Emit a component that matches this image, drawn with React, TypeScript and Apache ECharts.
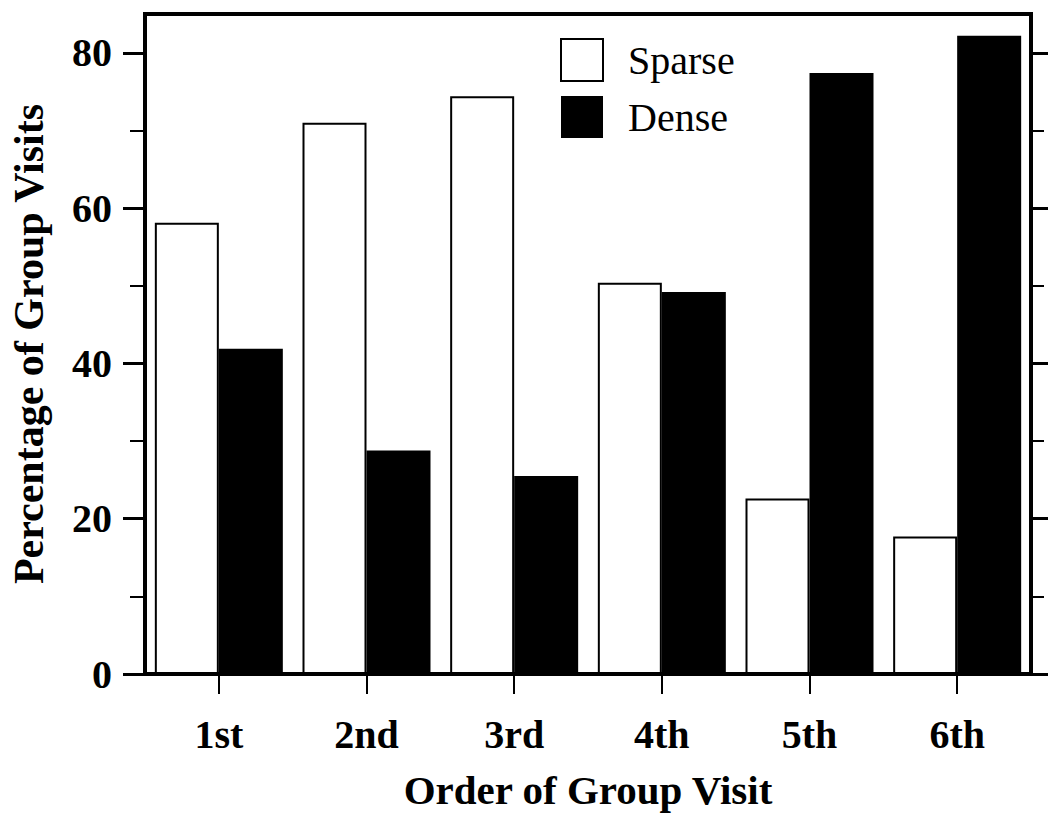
import React, { useEffect, useRef } from "react";
import * as echarts from "echarts";

const categories = ["1st", "2nd", "3rd", "4th", "5th", "6th"];
const sparse = [58.1, 71.0, 74.4, 50.4, 22.6, 17.7];
const dense = [41.9, 28.8, 25.5, 49.2, 77.4, 82.2];
const majorTicks = [0, 20, 40, 60, 80];
const minorTicks = [10, 30, 50, 70];

const FONT = "'Liberation Serif', 'Times New Roman', serif";

export default function App() {
  const ref = useRef<HTMLDivElement>(null);
  useEffect(() => {
    if (!ref.current) return;
    const chart = echarts.init(ref.current, null, { renderer: "svg" });
    const baseY = {
      type: "value" as const,
      min: 0,
      max: 85,
      splitLine: { show: false },
      axisLine: { show: false },
    };
    chart.setOption({
      animation: false,
      backgroundColor: "#fff",
      textStyle: { fontFamily: FONT },
      grid: {
        left: 145,
        right: 17,
        top: 14,
        bottom: 139,
        show: true,
        borderColor: "#000",
        borderWidth: 4,
        backgroundColor: "transparent",
      },
      legend: {
        orient: "vertical",
        left: 560,
        top: 38,
        padding: 0,
        itemWidth: 42,
        itemHeight: 42,
        itemGap: 14,
        icon: "rect",
        textStyle: {
          fontFamily: FONT,
          fontSize: 40,
          color: "#000",
          padding: [0, 0, 0, 20],
        },
        data: [
          { name: "Sparse", itemStyle: { color: "#fff", borderColor: "#000", borderWidth: 2 } },
          { name: "Dense", itemStyle: { color: "#000", borderColor: "#000", borderWidth: 0 } },
        ],
      },
      xAxis: {
        type: "category",
        data: categories,
        axisLine: { show: false },
        axisTick: { show: true, alignWithLabel: true, length: 20, inside: false, lineStyle: { color: "#000", width: 2 } },
        axisLabel: { fontFamily: FONT, fontSize: 40, fontWeight: "bold", color: "#000", margin: 40 },
        name: "Order of Group Visit",
        nameLocation: "middle",
        nameGap: 95,
        nameTextStyle: { fontFamily: FONT, fontSize: 41, fontWeight: "bold", color: "#000" },
      },
      yAxis: [
        {
          ...baseY,
          position: "left",
          axisTick: { show: true, length: 22, customValues: majorTicks, lineStyle: { color: "#000", width: 3 } },
          axisLabel: { customValues: majorTicks, fontFamily: FONT, fontSize: 40, fontWeight: "bold", color: "#000", margin: 33 },
          name: "Percentage of Group Visits",
          nameLocation: "middle",
          nameGap: 95,
          nameTextStyle: { fontFamily: FONT, fontSize: 42, fontWeight: "bold", color: "#000" },
        },
        {
          ...baseY,
          position: "left",
          axisTick: { show: true, length: 15, customValues: minorTicks, lineStyle: { color: "#000", width: 2 } },
          axisLabel: { show: false },
        },
        {
          ...baseY,
          position: "right",
          axisTick: { show: true, length: 20, customValues: majorTicks, lineStyle: { color: "#000", width: 3 } },
          axisLabel: { show: false },
        },
        {
          ...baseY,
          position: "right",
          axisTick: { show: true, length: 13, customValues: minorTicks, lineStyle: { color: "#000", width: 2 } },
          axisLabel: { show: false },
        },
      ],
      series: [
        {
          name: "Sparse",
          type: "bar",
          yAxisIndex: 0,
          data: sparse,
          barWidth: 64,
          barGap: "0%",
          itemStyle: { color: "#fff", borderColor: "#000", borderWidth: 2 },
        },
        {
          name: "Dense",
          type: "bar",
          yAxisIndex: 0,
          data: dense,
          barWidth: 64,
          barGap: "0%",
          itemStyle: { color: "#000" },
        },
      ],
    });
    return () => chart.dispose();
  }, []);
  return (
    <div
      ref={ref}
      style={{ position: "fixed", left: 0, top: 0, width: 1048, height: 815, background: "#fff" }}
    />
  );
}
